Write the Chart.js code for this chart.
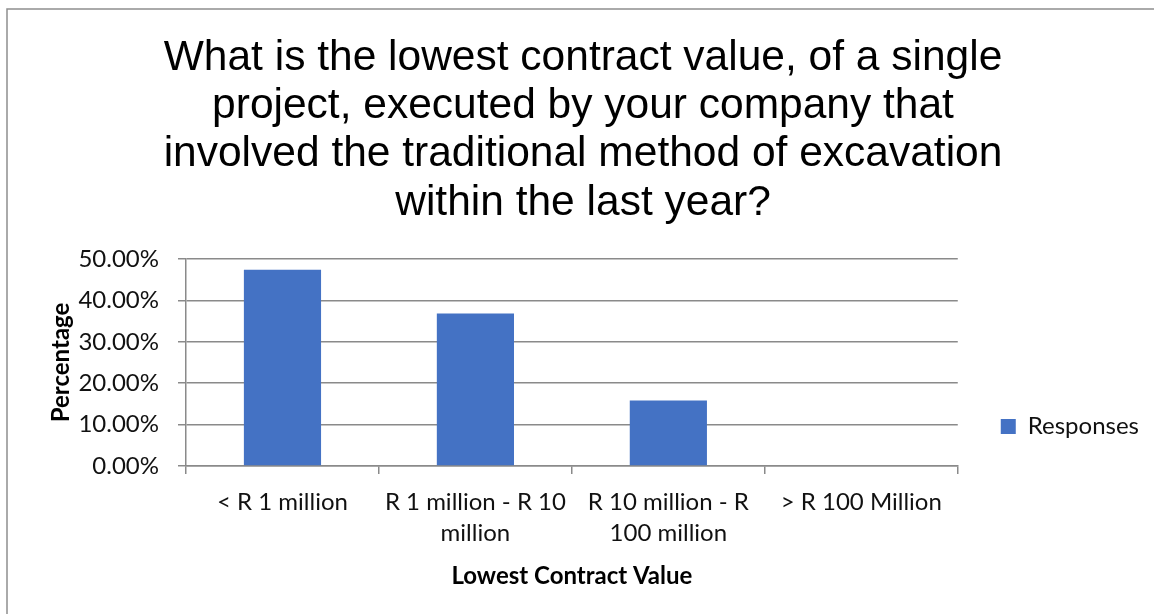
<!DOCTYPE html>
<html>
<head>
<meta charset="utf-8">
<script src="https://cdn.jsdelivr.net/npm/chart.js@4.4.1/dist/chart.umd.min.js"></script>
<style>
  html, body { margin: 0; padding: 0; background: #fff; }
  #wrap { width: 1154px; height: 614px; position: relative; }
</style>
</head>
<body>
<div id="wrap"><canvas id="chart" width="1154" height="614"></canvas></div>
<script>
// Survey answers: lowest contract value of a single traditionally excavated project
const chartTitle = [
  'What is the lowest contract value, of a single',
  'project, executed by your company that',
  'involved the traditional method of excavation',
  'within the last year?'
];
const categories = [
  '< R 1 million',
  ['R 1 million - R 10', 'million'],
  ['R 10 million - R', '100 million'],
  '> R 100 Million'
];
const seriesName = 'Responses';
const responses = [47.37, 36.84, 15.79, 0];   // percent of respondents
const yTicks = [0, 10, 20, 30, 40, 50];
const xAxisTitle = 'Lowest Contract Value';
const yAxisTitle = 'Percentage';

const BAR_BLUE = '#4472C4';
const AXIS_GREY = '#8a8a8a';
const TEXT = '#111111';
const UI_FONT = 'Lato, "Open Sans", sans-serif';

// White card with the thin grey frame along its top and left edges,
// and a legend placed beside the lower part of the plot.
const frame = {
  id: 'frame',
  beforeDraw(chart) {
    const ctx = chart.ctx;
    ctx.save();
    ctx.fillStyle = '#ffffff';
    ctx.fillRect(0, 0, chart.width, chart.height);
    ctx.strokeStyle = '#8f8f8f';
    ctx.lineWidth = 1.5;
    ctx.beginPath();
    ctx.moveTo(7, chart.height);
    ctx.lineTo(7, 9);
    ctx.lineTo(chart.width, 9);
    ctx.stroke();
    ctx.restore();
  },
  afterLayout(chart) {
    const lg = chart.legend;
    if (!lg) return;
    lg.top = chart.chartArea.top;
    lg.bottom = chart.height - 20;
    lg.height = lg.bottom - lg.top;
  }
};

new Chart(document.getElementById('chart'), {
  type: 'bar',
  data: {
    labels: categories,
    datasets: [{
      label: seriesName,
      data: responses,
      backgroundColor: BAR_BLUE,
      borderWidth: 0,
      categoryPercentage: 1.0,
      barPercentage: 0.4
    }]
  },
  options: {
    responsive: false,
    animation: false,
    layout: { padding: { left: 17, right: 5, top: 0, bottom: 0 } },
    plugins: {
      title: {
        display: true,
        text: chartTitle,
        color: '#000',
        font: { family: '"Liberation Sans", Arial, sans-serif', size: 42.5, weight: 'normal', lineHeight: 1.135 },
        padding: { top: 34, bottom: 32 }
      },
      legend: {
        display: true,
        position: 'right',
        labels: {
          color: TEXT,
          font: { family: UI_FONT, size: 24 },
          boxWidth: 15,
          boxHeight: 15,
          padding: 43
        }
      },
      tooltip: { enabled: false }
    },
    scales: {
      x: {
        offset: true,
        grid: { display: true, drawOnChartArea: false, drawTicks: true, tickLength: 8, color: AXIS_GREY, lineWidth: 1.5, offset: true },
        border: { display: true, color: AXIS_GREY, width: 1.5 },
        ticks: {
          color: TEXT,
          font: { family: UI_FONT, size: 24, lineHeight: 1.29 },
          padding: 12.5,
          maxRotation: 0,
          autoSkip: false
        },
        title: {
          display: true,
          text: xAxisTitle,
          color: '#000',
          font: { family: UI_FONT, size: 24, weight: 'bold', lineHeight: 1.2 },
          padding: { top: 0, bottom: 23.6 }
        },
        afterFit(scale) { scale.height = 148; }
      },
      y: {
        min: 0,
        max: 50,
        grid: { color: AXIS_GREY, lineWidth: 1.5, drawTicks: true, tickLength: 8 },
        border: { display: true, color: AXIS_GREY, width: 1.5 },
        afterBuildTicks(scale) { scale.ticks = yTicks.map(v => ({ value: v })); },
        ticks: {
          color: TEXT,
          font: { family: UI_FONT, size: 24 },
          padding: 19,
          callback: v => Number(v).toFixed(2) + '%'
        },
        title: {
          display: true,
          text: yAxisTitle,
          color: '#000',
          font: { family: UI_FONT, size: 24, weight: 'bold', lineHeight: 1.2 },
          padding: { top: 30, bottom: 0 }
        },
        afterFit(scale) { scale.width = 169; }
      }
    }
  },
  plugins: [frame]
});
</script>
</body>
</html>
